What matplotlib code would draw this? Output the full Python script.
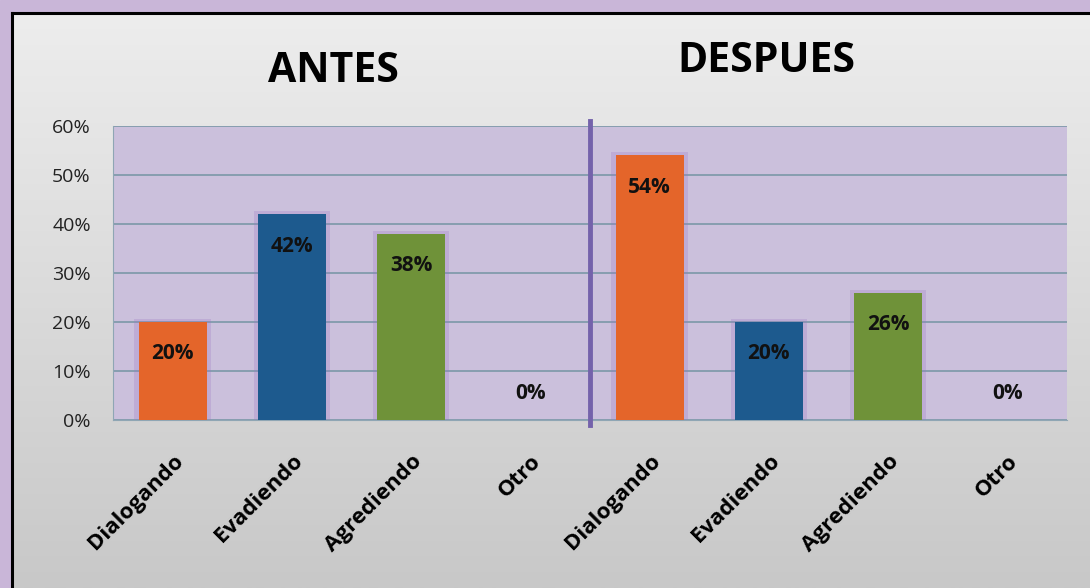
import numpy as np
import matplotlib.pyplot as plt
from matplotlib.colors import LinearSegmentedColormap
from matplotlib.patches import Rectangle

categories = ["Dialogando", "Evadiendo", "Agrediendo", "Otro",
              "Dialogando", "Evadiendo", "Agrediendo", "Otro"]
values = [20, 42, 38, 0, 54, 20, 26, 0]
labels = ["20%", "42%", "38%", "0%", "54%", "20%", "26%", "0%"]
colors = ["#e4652a", "#1d5a8e", "#6f9239", "#6f9239",
          "#e4652a", "#1d5a8e", "#6f9239", "#6f9239"]
yticks = [0, 10, 20, 30, 40, 50, 60]
group_titles = ["ANTES", "DESPUES"]

plt.rcParams['font.family'] = ['Open Sans', 'DejaVu Sans']

fig = plt.figure(figsize=(10.9, 5.88), dpi=100)

# background: purple glow, then grey gradient panel with black border
bg = fig.add_axes([0, 0, 1, 1], zorder=-10)
bg.add_patch(Rectangle((0, 0), 1090, 588, color="#c9b6d8", zorder=0))
grad = np.linspace(0, 1, 256).reshape(-1, 1)
bg.imshow(grad, extent=(12, 1090, 588, 13), aspect='auto', zorder=1,
          cmap=LinearSegmentedColormap.from_list("g", ["#ededed", "#c8c8c8"]))
bg.plot([12, 1090], [13, 13], color="black", lw=2.2, zorder=2)
bg.plot([12, 12], [13, 588], color="black", lw=2.2, zorder=2)
bg.set_xlim(0, 1090)
bg.set_ylim(588, 0)
bg.axis('off')

ax = fig.add_axes([113 / 1090, 1 - 420 / 588, 954 / 1090, 294 / 588])
ax.set_facecolor("#cbc0dc")
x = np.arange(len(categories))

# soft purple glow behind bars
ax.bar(x, [v + 0.6 if v > 0 else 0 for v in values], width=0.64,
       color="#9a74c4", alpha=0.25, zorder=2)
ax.bar(x, values, width=0.57, color=colors, zorder=3)

for xi, v, lab in zip(x, values, labels):
    off = -23 if v > 0 else 19
    ax.annotate(lab, (xi, v), xytext=(0, off), textcoords="offset points",
                ha="center", va="center", fontsize=15, fontweight="bold",
                color="#111111", zorder=5)

ax.set_xlim(-0.5, len(categories) - 0.5)
ax.set_ylim(0, 60)
ax.set_yticks(yticks)
ax.set_yticklabels([f"{t}%" for t in yticks], fontsize=14, color="#222222")
ax.yaxis.grid(True, color="#7b98a8", lw=1.2)
ax.set_axisbelow(True)
ax.tick_params(length=0)
ax.tick_params(axis='y', pad=16)
ax.set_xticks(x)
ax.set_xticklabels(categories, rotation=45, ha="right", rotation_mode="anchor",
                   fontsize=16, fontweight="bold")
ax.tick_params(axis='x', pad=22)
for s in ["top", "right"]:
    ax.spines[s].set_visible(False)
ax.spines["left"].set_color("#8fa6b4")
ax.spines["bottom"].set_color("#8fa6b4")

# divider between groups
ax.plot([3.5, 3.5], [-1, 61], color="#7462ab", lw=3.5, clip_on=False, zorder=4)

fig.text(333 / 1090, 1 - 72 / 588, group_titles[0], ha="center", va="center",
         fontsize=29.5, fontweight="bold")
fig.text(766 / 1090, 1 - 62 / 588, group_titles[1], ha="center", va="center",
         fontsize=29.5, fontweight="bold")

fig.savefig("out.png", dpi=100)
